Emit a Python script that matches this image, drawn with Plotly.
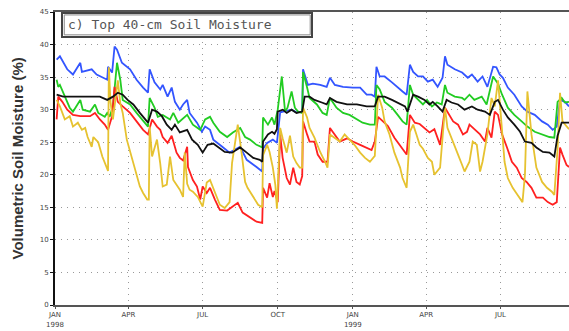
import pandas as pd
import plotly.graph_objects as go

START = "1998-01-01"
X_END = "1999-09-23"

tick_dates = ["1998-01-01", "1998-04-01", "1998-07-01", "1998-10-01",
              "1999-01-01", "1999-04-01", "1999-07-01"]
tick_text = ["JAN<br>1998", "APR", "JUL", "OCT", "JAN<br>1999", "APR", "JUL"]
y_ticks = [0, 5, 10, 15, 20, 25, 30, 35, 40, 45]

# (day offset from 1 Jan 1998, volumetric soil moisture %)
blue = [(2, 37.7), (6, 38.2), (15, 36.2), (22, 35.4), (31, 37.2), (33, 35.8), (45, 36.2), (51, 35.4),
        (64, 34.6), (65, 36.6), (70, 35.7), (73, 39.7), (76, 39.2), (82, 37.2), (92, 36.2), (100, 34.6),
        (108, 33.4), (114, 32.6), (116, 36.2), (122, 34.2), (129, 33.1), (132, 33.8), (138, 32.0),
        (143, 33.4), (147, 31.2), (153, 30.0), (157, 30.8), (162, 31.5), (165, 29.5), (174, 28.0),
        (180, 26.6), (184, 27.4), (190, 26.9), (194, 25.4), (205, 24.3), (214, 23.4), (227, 24.3),
        (235, 22.3), (247, 21.2), (254, 20.5), (255, 24.0), (260, 24.9), (267, 25.4), (272, 24.9),
        (276, 29.6), (284, 29.8), (290, 30.0), (296, 29.6), (303, 29.7), (304, 36.2), (310, 33.8),
        (316, 34.0), (325, 33.8), (333, 33.5), (337, 34.9), (343, 33.8), (353, 33.5), (365, 33.4),
        (374, 33.4), (382, 32.3), (388, 32.3), (392, 32.0), (394, 36.6), (398, 35.1), (404, 35.1),
        (413, 34.2), (420, 33.4), (426, 32.8), (431, 32.3), (435, 36.9), (439, 35.8), (445, 35.1),
        (451, 35.1), (457, 34.3), (463, 34.6), (469, 33.5), (475, 34.9), (478, 38.2), (481, 36.9),
        (490, 36.2), (499, 35.7), (506, 34.9), (511, 35.4), (518, 34.3), (524, 35.1), (530, 33.5),
        (537, 36.6), (541, 36.5), (545, 35.4), (549, 34.9), (555, 33.4), (563, 32.3), (572, 30.5),
        (579, 29.7), (588, 29.2), (597, 28.2), (604, 27.7), (610, 26.9), (615, 27.4), (619, 31.5),
        (625, 31.2), (630, 30.5)]

green = [(2, 34.6), (4, 33.5), (6, 33.8), (10, 32.6), (15, 31.2), (18, 30.3), (22, 29.7), (28, 30.8),
         (31, 31.5), (34, 30.0), (43, 29.7), (49, 30.8), (53, 29.5), (61, 28.9), (64, 29.5), (67, 28.9),
         (71, 30.5), (76, 37.2), (80, 34.6), (83, 31.5), (92, 30.8), (100, 29.5), (108, 28.2),
         (114, 27.4), (116, 31.8), (122, 30.3), (126, 28.9), (132, 29.2), (141, 28.5), (145, 29.5),
         (151, 28.0), (162, 29.2), (169, 27.7), (178, 26.9), (184, 28.5), (190, 28.9), (194, 28.0),
         (202, 26.6), (211, 25.8), (218, 26.5), (227, 27.2), (233, 25.8), (239, 25.4), (247, 24.6),
         (254, 24.2), (255, 28.8), (261, 27.7), (266, 28.8), (269, 27.7), (273, 30.0), (278, 35.1),
         (282, 29.7), (285, 30.3), (290, 32.8), (294, 30.3), (298, 29.7), (303, 29.5), (304, 35.8),
         (309, 33.4), (312, 31.8), (321, 30.8), (328, 29.5), (333, 29.2), (337, 31.8), (345, 30.3),
         (353, 29.5), (361, 29.2), (370, 28.5), (377, 28.0), (386, 27.7), (392, 27.7), (394, 33.8),
         (398, 33.1), (404, 31.2), (413, 30.3), (420, 29.2), (426, 28.2), (431, 27.7), (435, 33.8),
         (439, 32.3), (445, 31.5), (451, 30.8), (456, 31.5), (462, 30.5), (468, 31.1), (474, 30.8),
         (478, 33.8), (481, 32.6), (490, 32.0), (499, 31.8), (502, 31.5), (508, 32.3), (514, 31.5),
         (523, 32.0), (529, 30.8), (537, 35.1), (543, 34.0), (548, 32.3), (555, 30.3), (563, 29.2),
         (572, 28.2), (579, 27.4), (588, 26.6), (597, 26.2), (606, 25.8), (612, 25.7), (616, 31.2),
         (621, 31.8), (625, 31.1), (630, 31.2)]

red = [(2, 28.5), (4, 32.0), (9, 31.2), (15, 30.0), (22, 29.2), (31, 29.0), (43, 29.0), (49, 29.5),
       (55, 28.5), (61, 27.7), (65, 26.9), (70, 29.0), (73, 33.5), (77, 31.2), (83, 30.5), (92, 29.5),
       (100, 28.2), (108, 26.9), (114, 26.2), (119, 28.5), (125, 27.4), (129, 26.9), (132, 25.8),
       (138, 24.9), (143, 26.0), (147, 24.5), (149, 23.4), (153, 22.6), (157, 22.2), (162, 24.3),
       (163, 21.2), (169, 19.2), (174, 18.2), (178, 16.2), (181, 18.2), (186, 17.2), (190, 18.0),
       (196, 16.2), (202, 14.6), (211, 14.5), (218, 15.1), (224, 15.7), (230, 14.2), (239, 13.5),
       (247, 12.8), (254, 12.6), (255, 18.0), (260, 16.5), (263, 18.7), (267, 16.6), (269, 17.5),
       (273, 15.8), (276, 26.2), (279, 22.6), (284, 19.5), (288, 18.5), (292, 21.1), (296, 18.9),
       (300, 18.5), (303, 19.8), (304, 28.2), (309, 26.2), (312, 25.1), (318, 25.1), (322, 23.1),
       (328, 22.0), (334, 22.0), (337, 27.2), (343, 26.2), (349, 25.1), (358, 25.6), (365, 25.1),
       (374, 24.6), (382, 24.2), (388, 23.8), (392, 25.1), (396, 28.9), (402, 28.2), (408, 27.5),
       (416, 25.7), (425, 24.2), (431, 23.1), (435, 29.2), (441, 28.0), (447, 27.8), (453, 27.2),
       (459, 26.5), (465, 27.0), (472, 24.6), (478, 30.3), (481, 29.7), (488, 28.2), (494, 27.7),
       (500, 26.2), (505, 26.6), (508, 27.7), (514, 27.0), (521, 26.2), (527, 25.1), (530, 27.2),
       (535, 25.7), (539, 29.7), (543, 29.2), (548, 26.2), (554, 24.2), (560, 22.0), (566, 21.1),
       (572, 19.5), (578, 18.9), (584, 18.0), (590, 16.5), (598, 16.5), (604, 15.8), (610, 15.4),
       (615, 15.8), (619, 24.2), (622, 23.1), (627, 21.5), (630, 21.2)]

gold = [(2, 31.5), (6, 30.5), (12, 28.5), (18, 29.0), (22, 27.4), (28, 28.0), (33, 26.9), (37, 27.2),
        (40, 25.8), (45, 24.3), (47, 25.8), (53, 25.0), (58, 22.8), (64, 20.8), (65, 20.6), (66, 36.5),
        (68, 31.2), (71, 28.5), (75, 33.0), (77, 34.5), (80, 31.0), (83, 29.5), (88, 25.4), (94, 22.8),
        (100, 20.3), (104, 18.2), (108, 17.2), (113, 16.2), (115, 16.2), (116, 27.4), (119, 22.8),
        (125, 25.4), (129, 21.7), (132, 18.2), (137, 18.5), (141, 22.8), (145, 19.2), (149, 18.5),
        (153, 17.7), (157, 16.6), (159, 23.4), (162, 18.6), (165, 17.7), (169, 17.4), (175, 16.6),
        (181, 15.1), (186, 18.8), (190, 19.2), (196, 17.4), (202, 15.4), (208, 14.9), (214, 15.8),
        (217, 21.8), (220, 24.5), (224, 27.7), (229, 23.1), (233, 18.9), (236, 18.0), (243, 16.5),
        (249, 15.4), (254, 15.0), (255, 23.0), (260, 24.6), (263, 23.5), (267, 21.1), (270, 18.5),
        (272, 14.8), (276, 27.2), (279, 25.6), (284, 23.4), (288, 26.0), (292, 22.8), (296, 21.8),
        (300, 21.1), (303, 21.1), (304, 30.3), (309, 28.8), (312, 27.2), (318, 25.7), (325, 23.5),
        (331, 22.0), (334, 21.1), (337, 26.2), (343, 25.6), (349, 25.1), (355, 26.2), (361, 25.4),
        (367, 24.6), (374, 23.4), (380, 22.6), (386, 22.0), (392, 22.9), (396, 32.3), (401, 30.3),
        (404, 28.2), (410, 26.2), (416, 23.4), (423, 21.1), (426, 19.5), (431, 18.0), (435, 26.6),
        (439, 27.7), (443, 26.2), (447, 24.6), (451, 24.0), (457, 22.6), (462, 22.0), (465, 20.0),
        (472, 21.1), (478, 30.3), (481, 27.2), (488, 25.1), (494, 23.1), (499, 21.5), (502, 20.5),
        (508, 22.0), (512, 25.1), (517, 24.6), (521, 20.5), (524, 22.0), (530, 26.2), (535, 31.8),
        (539, 30.5), (543, 34.5), (548, 26.2), (551, 22.0), (555, 19.5), (561, 18.0), (567, 16.9),
        (573, 15.8), (576, 20.0), (579, 32.8), (584, 26.2), (590, 21.1), (597, 18.9), (603, 18.0),
        (609, 17.4), (612, 16.9), (616, 24.0), (619, 32.6), (622, 28.2), (627, 27.4), (630, 27.0)]

black = [(2, 32.3), (10, 32.0), (30, 32.0), (55, 32.0), (64, 31.5), (67, 31.7), (71, 32.0), (77, 32.6),
         (83, 32.3), (89, 31.5), (96, 30.8), (104, 29.5), (110, 28.5), (114, 28.0), (119, 30.0),
         (125, 29.7), (131, 29.0), (137, 27.7), (143, 26.9), (147, 27.7), (153, 26.5), (162, 26.9),
         (168, 25.4), (175, 24.6), (181, 23.4), (187, 24.6), (194, 24.8), (200, 24.2), (208, 23.5),
         (217, 23.4), (227, 24.2), (235, 23.4), (243, 22.6), (251, 22.3), (254, 22.0), (255, 25.1),
         (261, 26.2), (266, 26.6), (269, 26.3), (272, 27.0), (273, 29.7), (279, 30.0), (284, 29.5),
         (290, 30.0), (296, 29.5), (303, 29.7), (306, 32.0), (312, 32.0), (318, 31.5), (327, 31.1),
         (333, 30.8), (337, 31.8), (345, 31.2), (358, 30.8), (370, 30.8), (382, 30.5), (392, 30.5),
         (396, 32.0), (404, 32.0), (413, 31.5), (420, 31.1), (429, 30.5), (432, 29.7), (439, 32.3),
         (445, 32.0), (453, 31.5), (459, 30.8), (463, 31.2), (469, 30.5), (475, 29.7), (480, 31.5),
         (486, 31.1), (494, 30.8), (502, 30.0), (511, 30.5), (518, 30.0), (527, 29.7), (533, 29.2),
         (539, 31.2), (543, 31.5), (549, 30.0), (555, 28.8), (563, 27.7), (570, 26.6), (576, 25.1),
         (584, 24.9), (590, 24.2), (598, 23.5), (606, 23.4), (612, 22.8), (616, 26.0), (621, 28.0),
         (630, 28.0)]

series = [("blue", blue, "#3355ff"), ("green", green, "#22cc22"), ("red", red, "#ff2020"),
          ("gold", gold, "#e6c230"), ("black", black, "#111111")]

base = pd.Timestamp(START)
fig = go.Figure()
for name, pts, col in series:
    xs = [base + pd.Timedelta(days=d) for d, _ in pts]
    ys = [v for _, v in pts]
    fig.add_trace(go.Scatter(x=xs, y=ys, mode="lines", name=name,
                             line=dict(color=col, width=1.8), showlegend=False))

tick_font = dict(family="DejaVu Sans", size=7, color="#444")
grid_dash = "1px,5px"
fig.update_layout(
    width=569, height=331,
    margin=dict(l=55, r=0, t=12, b=26, autoexpand=False),
    paper_bgcolor="white", plot_bgcolor="white",
    xaxis=dict(type="date", range=[START, X_END], tickvals=tick_dates, ticktext=tick_text,
               tickfont=tick_font, showgrid=True, gridcolor="#999999", griddash=grid_dash, gridwidth=1,
               showline=True, linecolor="#555", linewidth=2, mirror=True,
               ticks="outside", ticklen=2, tickcolor="#555", zeroline=False),
    yaxis=dict(range=[0, 45], tickvals=y_ticks, tickfont=tick_font,
               showgrid=True, gridcolor="#999999", griddash=grid_dash, gridwidth=1,
               showline=True, linecolor="#111", linewidth=2, mirror=False,
               ticks="outside", ticklen=3, tickcolor="#111", zeroline=False),
    shapes=[
        dict(type="rect", xref="paper", yref="paper", x0=0.0136, x1=0.5, y0=0.915, y1=0.997,
             line=dict(color="#444", width=2), fillcolor="white", layer="above"),
        dict(type="rect", xref="paper", yref="paper", x0=0.018, x1=0.4965, y0=0.922, y1=0.99,
             line=dict(color="#888", width=1), fillcolor="rgba(0,0,0,0)", layer="above"),
    ],
    annotations=[
        dict(text="c) Top 40-cm Soil Moisture", xref="paper", yref="paper", x=0.021, y=0.956,
             xanchor="left", yanchor="middle", showarrow=False,
             font=dict(family="DejaVu Sans Mono", size=13, color="#555")),
        dict(text="<b>Volumetric Soil Moisture (%)</b>", xref="paper", yref="paper",
             x=-0.072, y=0.5, xanchor="center", yanchor="middle", textangle=-90, showarrow=False,
             font=dict(family="Liberation Sans", size=15, color="#333")),
    ],
)

fig.write_html("out.html", config={"displayModeBar": False},
               post_script="document.body.style.margin='0px';document.body.style.overflow='hidden';")
